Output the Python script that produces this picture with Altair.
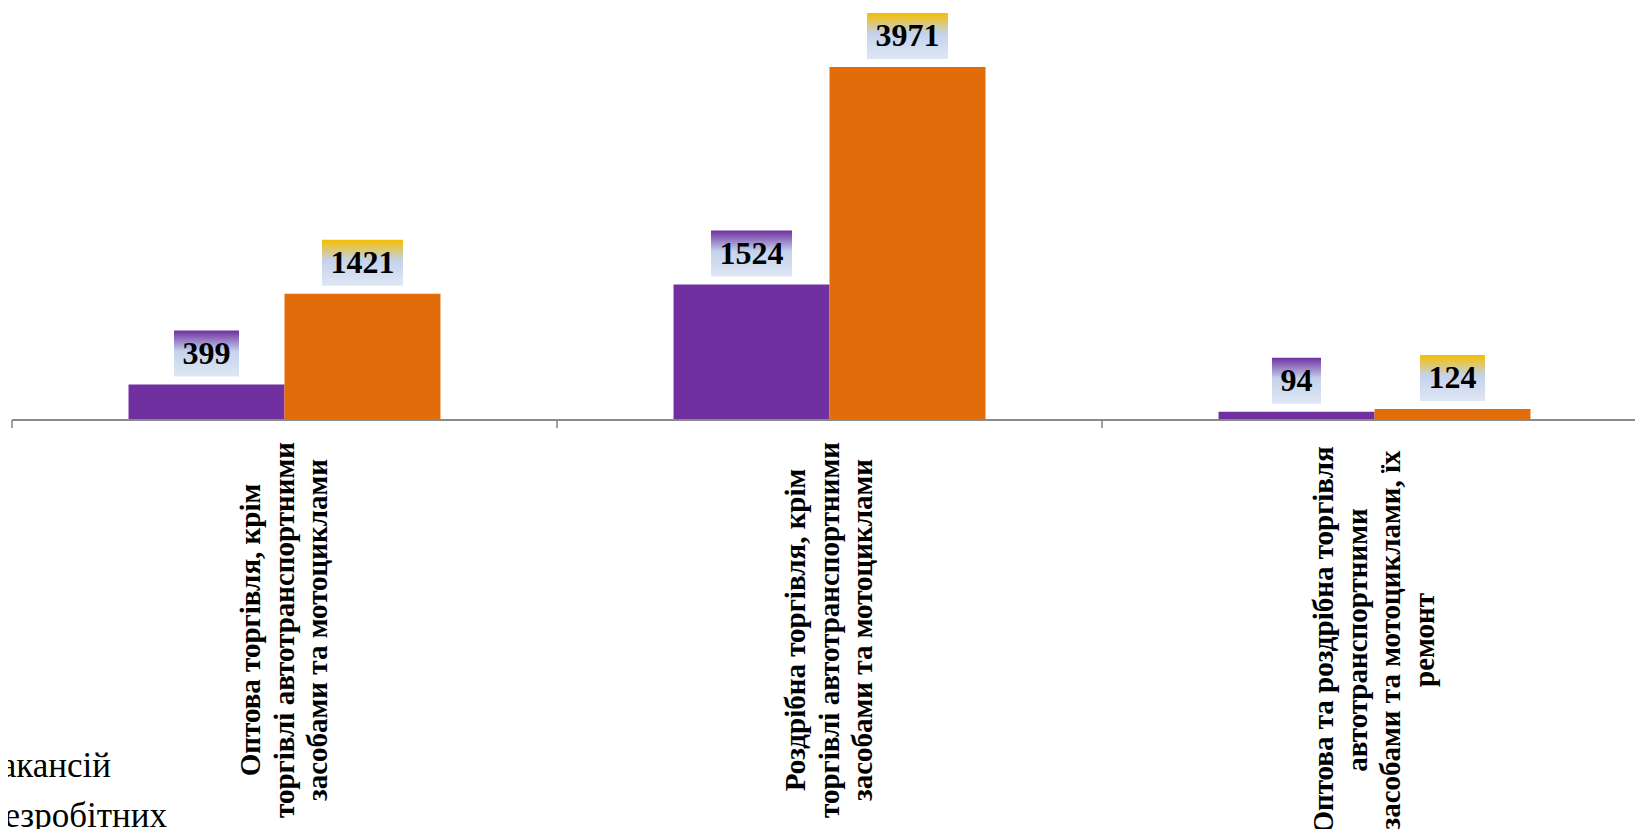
import altair as alt
import pandas as pd

categories = [
    "Оптова торгівля, крім\nторгівлі автотранспортними\nзасобами  та мотоциклами",
    "Роздрібна торгівля, крім\nторгівлі автотранспортними\nзасобами  та мотоциклами",
    "Оптова та роздрібна торгівля\nавтотранспортними\nзасобами  та мотоциклами, їх\nремонт",
]
series = ["Кількість вакансій", "Кількість безробітних"]
vacancies = [399, 1524, 94]
unemployed = [1421, 3971, 124]

PURPLE = "#7030A0"
ORANGE = "#E36C0A"
YMAX = 4635
PLOT_H = 412
K = YMAX / PLOT_H  # data units per pixel
LH = 33.5

rows = []
for c, v in zip(categories, vacancies):
    rows.append({"cat": c, "series": series[0], "value": v})
for c, v in zip(categories, unemployed):
    rows.append({"cat": c, "series": series[1], "value": v})
df = pd.DataFrame(rows)

xscale = alt.Scale(domain=categories, range=[0, 1635], paddingInner=0, paddingOuter=0)
yscale = alt.Scale(domain=[0, YMAX], nice=False, zero=True)
xo = alt.XOffset("series:N", scale=alt.Scale(domain=series, paddingInner=0, paddingOuter=0.747))
X = alt.X("cat:N", sort=categories, scale=xscale, axis=None)

bars = alt.Chart().mark_bar().encode(
    x=X,
    xOffset=xo,
    y=alt.Y("value:Q", scale=yscale, axis=None),
    color=alt.Color("series:N", scale=alt.Scale(domain=series, range=[PURPLE, ORANGE]), legend=None),
)

def grad(top):
    return {
        "gradient": "linear", "x1": 0, "y1": 0, "x2": 0, "y2": 1,
        "stops": [
            {"offset": 0, "color": top},
            {"offset": 0.45, "color": "#C4D2EC"},
            {"offset": 1, "color": "#DFE7F4"},
        ],
    }

def label_box(name, top):
    return alt.Chart().transform_filter(
        alt.datum.series == name
    ).transform_calculate(
        lo=f"datum.value + {8 * K}",
        hi=f"datum.value + {54 * K}",
        w="17 + 16 * length(toString(datum.value))",
    ).mark_bar(color=grad(top)).encode(
        x=X,
        xOffset=xo,
        y=alt.Y("lo:Q", scale=yscale, axis=None),
        y2="hi:Q",
        size=alt.Size("w:Q", scale=None, legend=None),
    )

box1 = label_box(series[0], PURPLE)
box2 = label_box(series[1], "#F5BE00")

values = alt.Chart().mark_text(
    font="Liberation Serif", fontWeight="bold", fontSize=32, color="black",
    baseline="middle", align="center", dy=-31,
).encode(
    x=X,
    xOffset=xo,
    y=alt.Y("value:Q", scale=yscale, axis=None),
    text=alt.Text("value:Q"),
)

baseline = alt.Chart().mark_rule(color="#8A8A8A", strokeWidth=1.6).encode(
    x=alt.value(0), x2=alt.value(1640), y=alt.value(PLOT_H)
)

ticks = alt.Chart().transform_filter(
    alt.datum.series == series[0]
).mark_rule(color="#8A8A8A", strokeWidth=1.6).encode(
    x=alt.X("cat:N", sort=categories, scale=xscale, axis=None, bandPosition=0),
    y=alt.value(PLOT_H),
    y2=alt.value(PLOT_H + 8),
)

def cat_labels(nlines, ypos):
    return alt.Chart().transform_filter(
        alt.datum.series == series[0]
    ).transform_calculate(
        n="length(split(datum.cat, '\\n'))"
    ).transform_filter(
        alt.datum.n == nlines
    ).mark_text(
        font="Liberation Serif", fontWeight="bold", fontSize=29, color="black",
        angle=270, align="center", baseline="middle", lineBreak="\n", lineHeight=LH,
        dy=-(nlines - 1) / 2 * LH,
    ).encode(
        x=alt.X("cat:N", sort=categories, scale=xscale, axis=None),
        y=alt.value(ypos),
        text="cat:N",
    )

labels3 = cat_labels(3, 622)
labels4 = cat_labels(4, 632)

leg1 = alt.Chart().transform_filter(alt.datum.series == series[0]).transform_filter(
    alt.datum.cat == categories[0]
).mark_text(
    font="Liberation Serif", fontSize=35, color="black", align="right", baseline="alphabetic"
).encode(x=alt.value(99), y=alt.value(769), text="series:N")

leg2 = alt.Chart().transform_filter(alt.datum.series == series[1]).transform_filter(
    alt.datum.cat == categories[0]
).mark_text(
    font="Liberation Serif", fontSize=35, color="black", align="right", baseline="alphabetic"
).encode(x=alt.value(155), y=alt.value(819), text="series:N")

chart = alt.layer(
    bars, box1, box2, values, baseline, ticks, labels3, labels4, leg1, leg2, data=df
).properties(
    width=1623,
    height=PLOT_H,
    autosize=alt.AutoSizeParams(type="none"),
    padding={"left": 4, "top": 0, "right": 0, "bottom": 409},
    background="white",
).configure_view(stroke=None)

chart.save("out.html", embed_options={"renderer": "svg", "actions": False})
